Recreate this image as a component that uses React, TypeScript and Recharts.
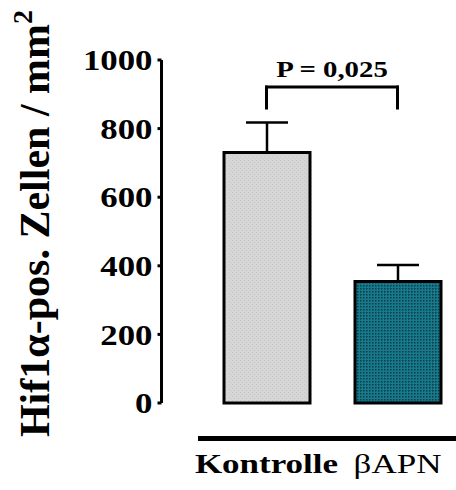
import { BarChart, Bar, XAxis, YAxis, ErrorBar, Cell, ReferenceLine, Label } from 'recharts'

const groups = ['Kontrolle', 'βAPN']
const means = [730, 354]
const sem = [88, 48]
const yTicks = [0, 200, 400, 600, 800, 1000]
const pText = 'P = 0,025'
const bracketLow = 860
const bracketHigh = 921

const data = groups.map((g, i) => ({ group: g, mean: means[i], err: [0, sem[i]] }))

const fills = ['url(#grain)', 'url(#dots)']
const FONT = '"Liberation Serif", "Times New Roman", serif'

function YTick({ x, y, payload }: any) {
  return (
    <text
      transform={`translate(${x},${y}) scale(1.2,1)`}
      textAnchor="end"
      dy="0.355em"
      fontFamily={FONT}
      fontWeight="bold"
      fontSize={29}
      fill="#000"
    >
      {payload.value}
    </text>
  )
}

function XTick({ x, y, payload, index }: any) {
  return (
    <text
      transform={`translate(${x},${y + 34.5}) scale(1.25,1)`}
      textAnchor="middle"
      fontFamily={FONT}
      fontWeight={index === 0 ? 'bold' : 'normal'}
      fontSize={28}
      fill="#000"
    >
      {payload.value}
    </text>
  )
}

function YLabel() {
  return (
    <text
      x={49}
      y={223.5}
      transform="rotate(-90, 49, 223.5)"
      textAnchor="middle"
      fontFamily={FONT}
      fontWeight="bold"
      fontSize={42}
      fill="#000"
    >
      Hif1α-pos. Zellen / mm<tspan fontSize={28} dy={-17}>2</tspan>
    </text>
  )
}

function PLabel({ viewBox }: any) {
  const { x, y, width } = viewBox
  return (
    <text
      transform={`translate(${x + width / 2},${y - 10.5}) scale(1.2,1)`}
      textAnchor="middle"
      fontFamily={FONT}
      fontWeight="bold"
      fontSize={24}
      fill="#000"
    >
      {pText}
    </text>
  )
}

export default function App() {
  return (
    <div style={{ position: 'absolute', left: 0, top: 0, width: 456, height: 490, overflow: 'hidden', background: '#fff' }}>
      <BarChart width={463} height={490} data={data} margin={{ top: 60, right: 0, bottom: 0, left: 0 }}>
        <defs>
          <pattern id="dots" width="3" height="3" patternUnits="userSpaceOnUse">
            <rect width="3" height="3" fill="#17798c" />
            <rect width="1.5" height="1.5" fill="#0b3c46" />
          </pattern>
          <pattern id="grain" width="4" height="4" patternUnits="userSpaceOnUse">
            <rect width="4" height="4" fill="#d6d6d6" />
            <rect x="0" y="0" width="1" height="1" fill="#c6c6c6" />
            <rect x="2" y="2" width="1" height="1" fill="#c6c6c6" />
          </pattern>
        </defs>
        <XAxis
          xAxisId="b"
          dataKey="group"
          height={51.5}
          axisLine={{ stroke: '#000', strokeWidth: 5, strokeDasharray: '0 36.5 1000' }}
          tickLine={false}
          tickSize={0}
          tickMargin={0}
          tick={<XTick />}
          padding={{ left: 39.5, right: 0 }}
        />
        <XAxis
          xAxisId="a"
          dataKey="group"
          height={35.5}
          axisLine={false}
          tickLine={false}
          tick={false}
          padding={{ left: 39.5, right: 0 }}
        />
        <YAxis
          domain={[0, 1000]}
          ticks={yTicks}
          interval={0}
          width={161.5}
          axisLine={{ stroke: '#000', strokeWidth: 3 }}
          tickLine={{ stroke: '#000', strokeWidth: 3 }}
          tickSize={4}
          tickMargin={5}
          tick={<YTick />}
          label={<YLabel />}
        />
        <Bar xAxisId="b" dataKey="mean" barSize={86} stroke="#000" strokeWidth={3} isAnimationActive={false}>
          {data.map((d, i) => (
            <Cell key={d.group} fill={fills[i]} />
          ))}
          <ErrorBar dataKey="err" width={21} stroke="#000" strokeWidth={2.5} direction="y" />
        </Bar>
        <ReferenceLine
          xAxisId="b"
          segment={[{ x: groups[0], y: bracketLow }, { x: groups[0], y: bracketHigh }]}
          stroke="#000"
          strokeWidth={3}
          strokeLinecap="square"
        />
        <ReferenceLine
          xAxisId="b"
          segment={[{ x: groups[0], y: bracketHigh }, { x: groups[1], y: bracketHigh }]}
          stroke="#000"
          strokeWidth={3}
          strokeLinecap="square"
        >
          <Label content={<PLabel />} />
        </ReferenceLine>
        <ReferenceLine
          xAxisId="b"
          segment={[{ x: groups[1], y: bracketHigh }, { x: groups[1], y: bracketLow }]}
          stroke="#000"
          strokeWidth={3}
          strokeLinecap="square"
        />
      </BarChart>
    </div>
  )
}
